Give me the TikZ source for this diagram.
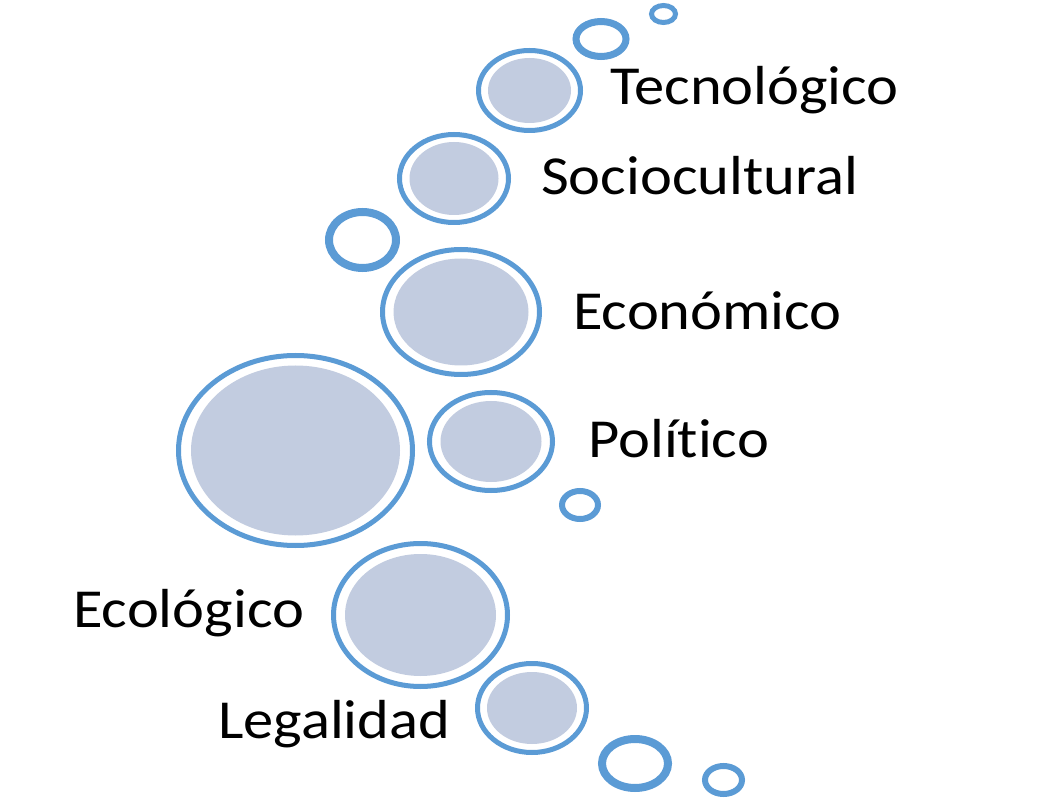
\documentclass[tikz,border=0pt]{standalone}
\usepackage{fontspec}
\setmainfont[Ligatures=NoCommon]{Carlito}
\definecolor{ringblue}{RGB}{91,155,213}
\definecolor{bubblefill}{RGB}{194,204,224}
\begin{document}
\begin{tikzpicture}[x=1pt,y=-1pt,
  outerring/.style={draw=ringblue,line width=5pt},
  innerdisc/.style={fill=bubblefill},
  smallring/.style={draw=ringblue},
  lab/.style={anchor=base west,inner sep=0pt,font=\fontsize{55}{60}\selectfont,text=black}]
\useasboundingbox[fill=white] (0,0) rectangle (1039,799);
% bubbles: outer ring + inner disc
\newcommand{\bubble}[6]{%
  \fill[innerdisc] (#1,#2) ellipse [x radius=#5, y radius=#6];
  \draw[outerring] (#1,#2) ellipse [x radius=#3, y radius=#4];}
\bubble{529.5}{90.5}{51}{40}{41.5}{32.5}
\bubble{454}{178.5}{54.5}{44}{44.5}{36.5}
\bubble{461}{312}{78.5}{62.5}{67.5}{53.5}
\bubble{295.5}{450.5}{117}{95}{104.5}{85}
\bubble{491}{441.5}{61.5}{49}{50.5}{40.5}
\bubble{420.5}{615}{87}{71.5}{75.5}{61}
\bubble{532}{708}{54.5}{44.5}{45}{36}
% small rings
\draw[smallring,line width=7pt] (601,39) ellipse [x radius=25, y radius=17.5];
\draw[smallring,line width=5pt] (663.5,14) ellipse [x radius=12, y radius=8.5];
\draw[smallring,line width=8pt] (362.5,240) ellipse [x radius=33.5, y radius=28];
\draw[smallring,line width=6pt] (580,505) ellipse [x radius=18, y radius=14];
\draw[smallring,line width=8pt] (635,763.5) ellipse [x radius=33, y radius=24.5];
\draw[smallring,line width=6pt] (723.5,780) ellipse [x radius=18.5, y radius=14];
% labels
\node[lab] (tec) at (610,105) {\scalebox{1.1}[1]{Tecnológico}};
\node[lab] (soc) at (541,195) {\scalebox{1.1}[1]{Sociocultural}};
\node[lab] (eco) at (573,330) {\scalebox{1.1}[1]{Económico}};
\node[lab] (pol) at (588,457) {\scalebox{1.1}[1]{Polít\kern0pt ico}};
\node[lab] (ecl) at (73,627) {\scalebox{1.1}[1]{Ecológico}};
\node[lab] (leg) at (218,738) {\scalebox{1.1}[1]{Legalidad}};
\end{tikzpicture}
\end{document}
